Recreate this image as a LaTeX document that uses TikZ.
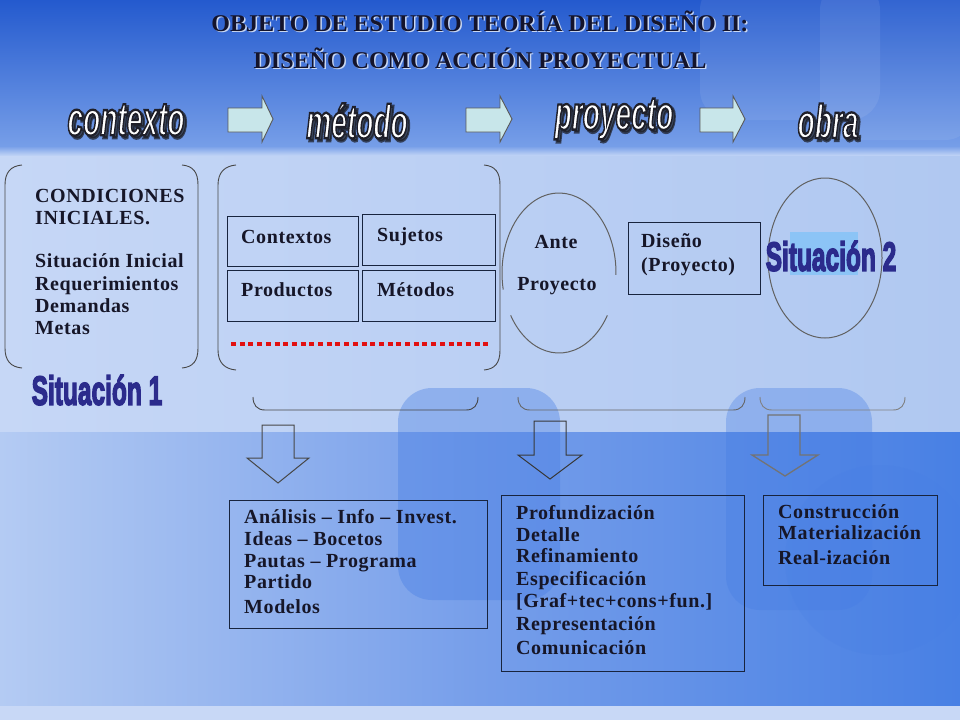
\documentclass[tikz,border=0pt]{standalone}
\usepackage{fontspec}
\setmainfont{Liberation Serif}[LetterSpace=3]
\newfontfamily\impactfont{Liberation Sans}
\usetikzlibrary{shapes.geometric}
\newcommand\outlinetext[3]{\special{pdf:literal direct 2 Tr #2 w #1 RG}#3\special{pdf:literal direct 0 Tr}}
\definecolor{hdrTop}{RGB}{36,90,206}
\definecolor{hdrBot}{RGB}{118,158,232}
\definecolor{bandC}{RGB}{196,214,246}
\definecolor{midL}{RGB}{198,215,246}
\definecolor{midR}{RGB}{176,200,241}
\definecolor{lowL}{RGB}{180,203,243}
\definecolor{lowM}{RGB}{118,158,234}
\definecolor{lowR}{RGB}{72,128,228}
\definecolor{stripC}{RGB}{200,216,246}
\definecolor{blobC}{RGB}{70,125,228}
\definecolor{txtC}{RGB}{22,22,40}
\definecolor{navyline}{RGB}{24,36,62}
\definecolor{aqua}{RGB}{200,230,234}
\definecolor{sitC}{RGB}{44,44,140}
\definecolor{hiliteC}{RGB}{140,196,246}
\definecolor{ttlC}{RGB}{20,20,44}
\definecolor{ttlShadow}{RGB}{200,214,242}
\tikzset{
  brk/.style={draw=black!72, line width=0.9pt},
  ell/.style={draw=black!62, line width=1pt},
  ibox/.style={draw=navyline, line width=1.3pt, inner sep=0pt, anchor=north west},
  txt/.style={font=\bfseries\fontsize{20}{22}\selectfont, text=txtC, inner sep=0pt, anchor=base west},
  harrow/.style={draw=black!65, fill=aqua, line width=0.9pt, line join=miter},
  darrow/.style={draw=black!72, line width=1pt},
  hword/.style={font=\impactfont\bfseries\itshape\fontsize{36}{36}\selectfont, xscale=.78, yscale=1.32, inner sep=0pt, text=white},
  hshadow/.style={hword, text=black!85, opacity=.7},
  sitword/.style={font=\impactfont\bfseries\fontsize{34}{34}\selectfont, xscale=.72, yscale=1.2, inner sep=0pt, text=sitC},
  ttl/.style={font=\bfseries\fontsize{24}{26}\selectfont\addfontfeatures{LetterSpace=0}, inner sep=0pt, text=ttlC},
  ttlsh/.style={ttl, text=ttlShadow}
}
\begin{document}
\begin{tikzpicture}[x=1pt,y=-1pt]
\useasboundingbox (0,0) rectangle (960,720);
% ---------- background ----------
\fill[midL] (0,0) rectangle (960,720);
\shade[top color=hdrTop, bottom color=hdrBot] (0,0) rectangle (960,146);
\shade[top color=hdrBot, bottom color=bandC] (0,146) rectangle (960,156);
\shade[left color=midL, right color=midR] (0,156) rectangle (960,432);
\shade[left color=lowL, right color=lowR, middle color=lowM] (0,432) rectangle (960,706);
\fill[stripC] (0,706) rectangle (960,720);
\fill[white, opacity=.08, rounded corners=30] (700,-20) rectangle (880,120);
\fill[white, opacity=.07, rounded corners=30] (820,-20) rectangle (975,140);
\fill[blobC, opacity=.38, rounded corners=34] (398,388) rectangle (560,600);
\fill[blobC, opacity=.34, rounded corners=34] (726,388) rectangle (872,610);
\fill[blobC, opacity=.20] (880,560) circle[radius=95];
% ---------- title ----------
\node[ttlsh, anchor=base] (t1s) at (481.5,32.5) {OBJETO DE ESTUDIO TEORÍA DEL DISEÑO II:};
\node[ttl, anchor=base] (t1) at (480,31) {OBJETO DE ESTUDIO TEORÍA DEL DISEÑO II:};
\node[ttlsh, anchor=base] (t2s) at (481.5,69.5) {DISEÑO COMO ACCIÓN PROYECTUAL};
\node[ttl, anchor=base] (t2) at (480,68) {DISEÑO COMO ACCIÓN PROYECTUAL};
% ---------- header words ----------
\foreach \w/\nm/\xx/\yy in {contexto/wContexto/126/120, método/wMetodo/357/121, proyecto/wProyecto/614/119, obra/wObra/828/121}{
  \node[hshadow] (\nm s) at (\xx+2.5,\yy+2.5) {\outlinetext{0.1 0.1 0.12}{2.4}{\w}};
  \node[hword] (\nm) at (\xx,\yy) {\outlinetext{0.12 0.12 0.16}{1.8}{\w}};
}
% header arrows
\draw[harrow] (228,108) -- (262,108) -- (262,96) -- (273,119) -- (262,142) -- (262,132) -- (228,132) -- cycle;
\draw[harrow] (466,108) -- (500,108) -- (500,96) -- (512,119) -- (500,142) -- (500,132) -- (466,132) -- cycle;
\draw[harrow] (700,108) -- (733,108) -- (733,96) -- (745,119) -- (733,142) -- (733,132) -- (700,132) -- cycle;
% ---------- left group ----------
\draw[brk] (22,165) .. controls (11,166) and (5,172) .. (5,185) -- (5,348) .. controls (5,361) and (11,367) .. (22,368);
\draw[brk] (182,165) .. controls (193,166) and (198,172) .. (198,185) -- (198,348) .. controls (198,361) and (193,367) .. (182,368);
\node[txt] (lCond) at (35,202) {CONDICIONES};
\node[txt] (lInic) at (35,224) {INICIALES.};
\node[txt] (lSit) at (35,267) {Situación Inicial};
\node[txt] (lReq) at (35,290) {Requerimientos};
\node[txt] (lDem) at (35,312) {Demandas};
\node[txt] (lMet) at (35,334) {Metas};
\node[sitword] (sit1) at (97,390) {\outlinetext{0.17 0.17 0.55}{1.4}{Situación 1}};
% ---------- method group ----------
\draw[brk] (236,165) .. controls (225,166) and (218,172) .. (218,185) -- (218,350) .. controls (218,363) and (225,369) .. (236,370);
\draw[brk] (484,165) .. controls (495,166) and (500,172) .. (500,185) -- (500,350) .. controls (500,363) and (495,369) .. (484,370);
\node[ibox, minimum width=131, minimum height=50] (bCtx) at (227,216) {};
\node[ibox, minimum width=133, minimum height=51] (bSuj) at (362,214) {};
\node[ibox, minimum width=131, minimum height=51] (bPro) at (227,270) {};
\node[ibox, minimum width=133, minimum height=51] (bMet) at (362,270) {};
\node[txt] (tCtx) at (241,243) {Contextos};
\node[txt] (tSuj) at (377,241) {Sujetos};
\node[txt] (tPro) at (241,296) {Productos};
\node[txt] (tMet) at (377,296) {Métodos};
\draw[draw={rgb,255:red,226;green,16;blue,16}, line width=4.5pt, dash pattern=on 5pt off 3.7pt] (231,344) -- (490,344);
% ---------- anteproyecto ----------
\coordinate (ante) at (559,273);
\draw[ell] (ante) ++(1.4:57 and 80) arc[start angle=1.4, end angle=-192, x radius=57, y radius=80];
\draw[ell] (ante) ++(148:57 and 80) arc[start angle=148, end angle=32, x radius=57, y radius=80];
\node[txt, anchor=base] (tAnte) at (556,248) {Ante};
\node[txt, anchor=base] (tAnteP) at (557,290) {Proyecto};
% ---------- diseño ----------
\node[ibox, minimum width=132, minimum height=72] (bDis) at (628,222) {};
\node[txt] (tDis1) at (641,247) {Diseño};
\node[txt] (tDis2) at (641,271) {(Proyecto)};
% ---------- situación 2 ----------
\fill[hiliteC] (790,232) rectangle (858,275);
\node[ell, ellipse, minimum width=114, minimum height=160, inner sep=0pt] (sit2ell) at (825,258) {};
\node[sitword] (sit2) at (831,256) {\outlinetext{0.17 0.17 0.55}{1.4}{Situación 2}};
% ---------- lower brackets ----------
\draw[brk] (253,397) .. controls (253,405) and (257,410) .. (265,410) -- (466,410) .. controls (474,410) and (478,405) .. (478,397);
\draw[brk, draw=black!60] (518,397) .. controls (518,405) and (522,410) .. (530,410) -- (733,410) .. controls (741,410) and (745,405) .. (745,397);
\draw[brk, draw=black!50] (760,397) .. controls (760,405) and (764,410) .. (772,410) -- (893,410) .. controls (901,410) and (905,405) .. (905,397);
% down arrows
\draw[darrow] (262,425) -- (294,425) -- (294,458) -- (309,458) -- (278,483) -- (247,458) -- (262,458) -- cycle;
\draw[darrow, draw=black!78] (534,421) -- (566,421) -- (566,455) -- (582,455) -- (550,479) -- (518,455) -- (534,455) -- cycle;
\draw[darrow, draw=black!55, line width=1.3pt] (768,415) -- (800,415) -- (800,455) -- (818,455) -- (785,476) -- (752,455) -- (768,455) -- cycle;
% ---------- lower boxes ----------
\node[ibox, minimum width=258, minimum height=128] (boxA) at (229,500) {};
\node[ibox, minimum width=243, minimum height=176] (boxB) at (501,495) {};
\node[ibox, minimum width=174, minimum height=90] (boxC) at (763,495) {};
\foreach \t/\yy [count=\i] in {{Análisis – Info – Invest.}/523, {Ideas – Bocetos}/545, {Pautas – Programa}/567, {Partido}/588, {Modelos}/613}
  \node[txt] (a\i) at (244,\yy) {\t};
\foreach \t/\yy [count=\i] in {{Profundización}/519, {Detalle}/541, {Refinamiento}/562, {Especificación}/585, {[Graf+tec+cons+fun.]}/607, {Representación}/630, {Comunicación}/654}
  \node[txt] (b\i) at (516,\yy) {\t};
\foreach \t/\yy [count=\i] in {{Construcción}/518, {Materialización}/539, {Real-ización}/564}
  \node[txt] (c\i) at (778,\yy) {\t};
\end{tikzpicture}
\end{document}
